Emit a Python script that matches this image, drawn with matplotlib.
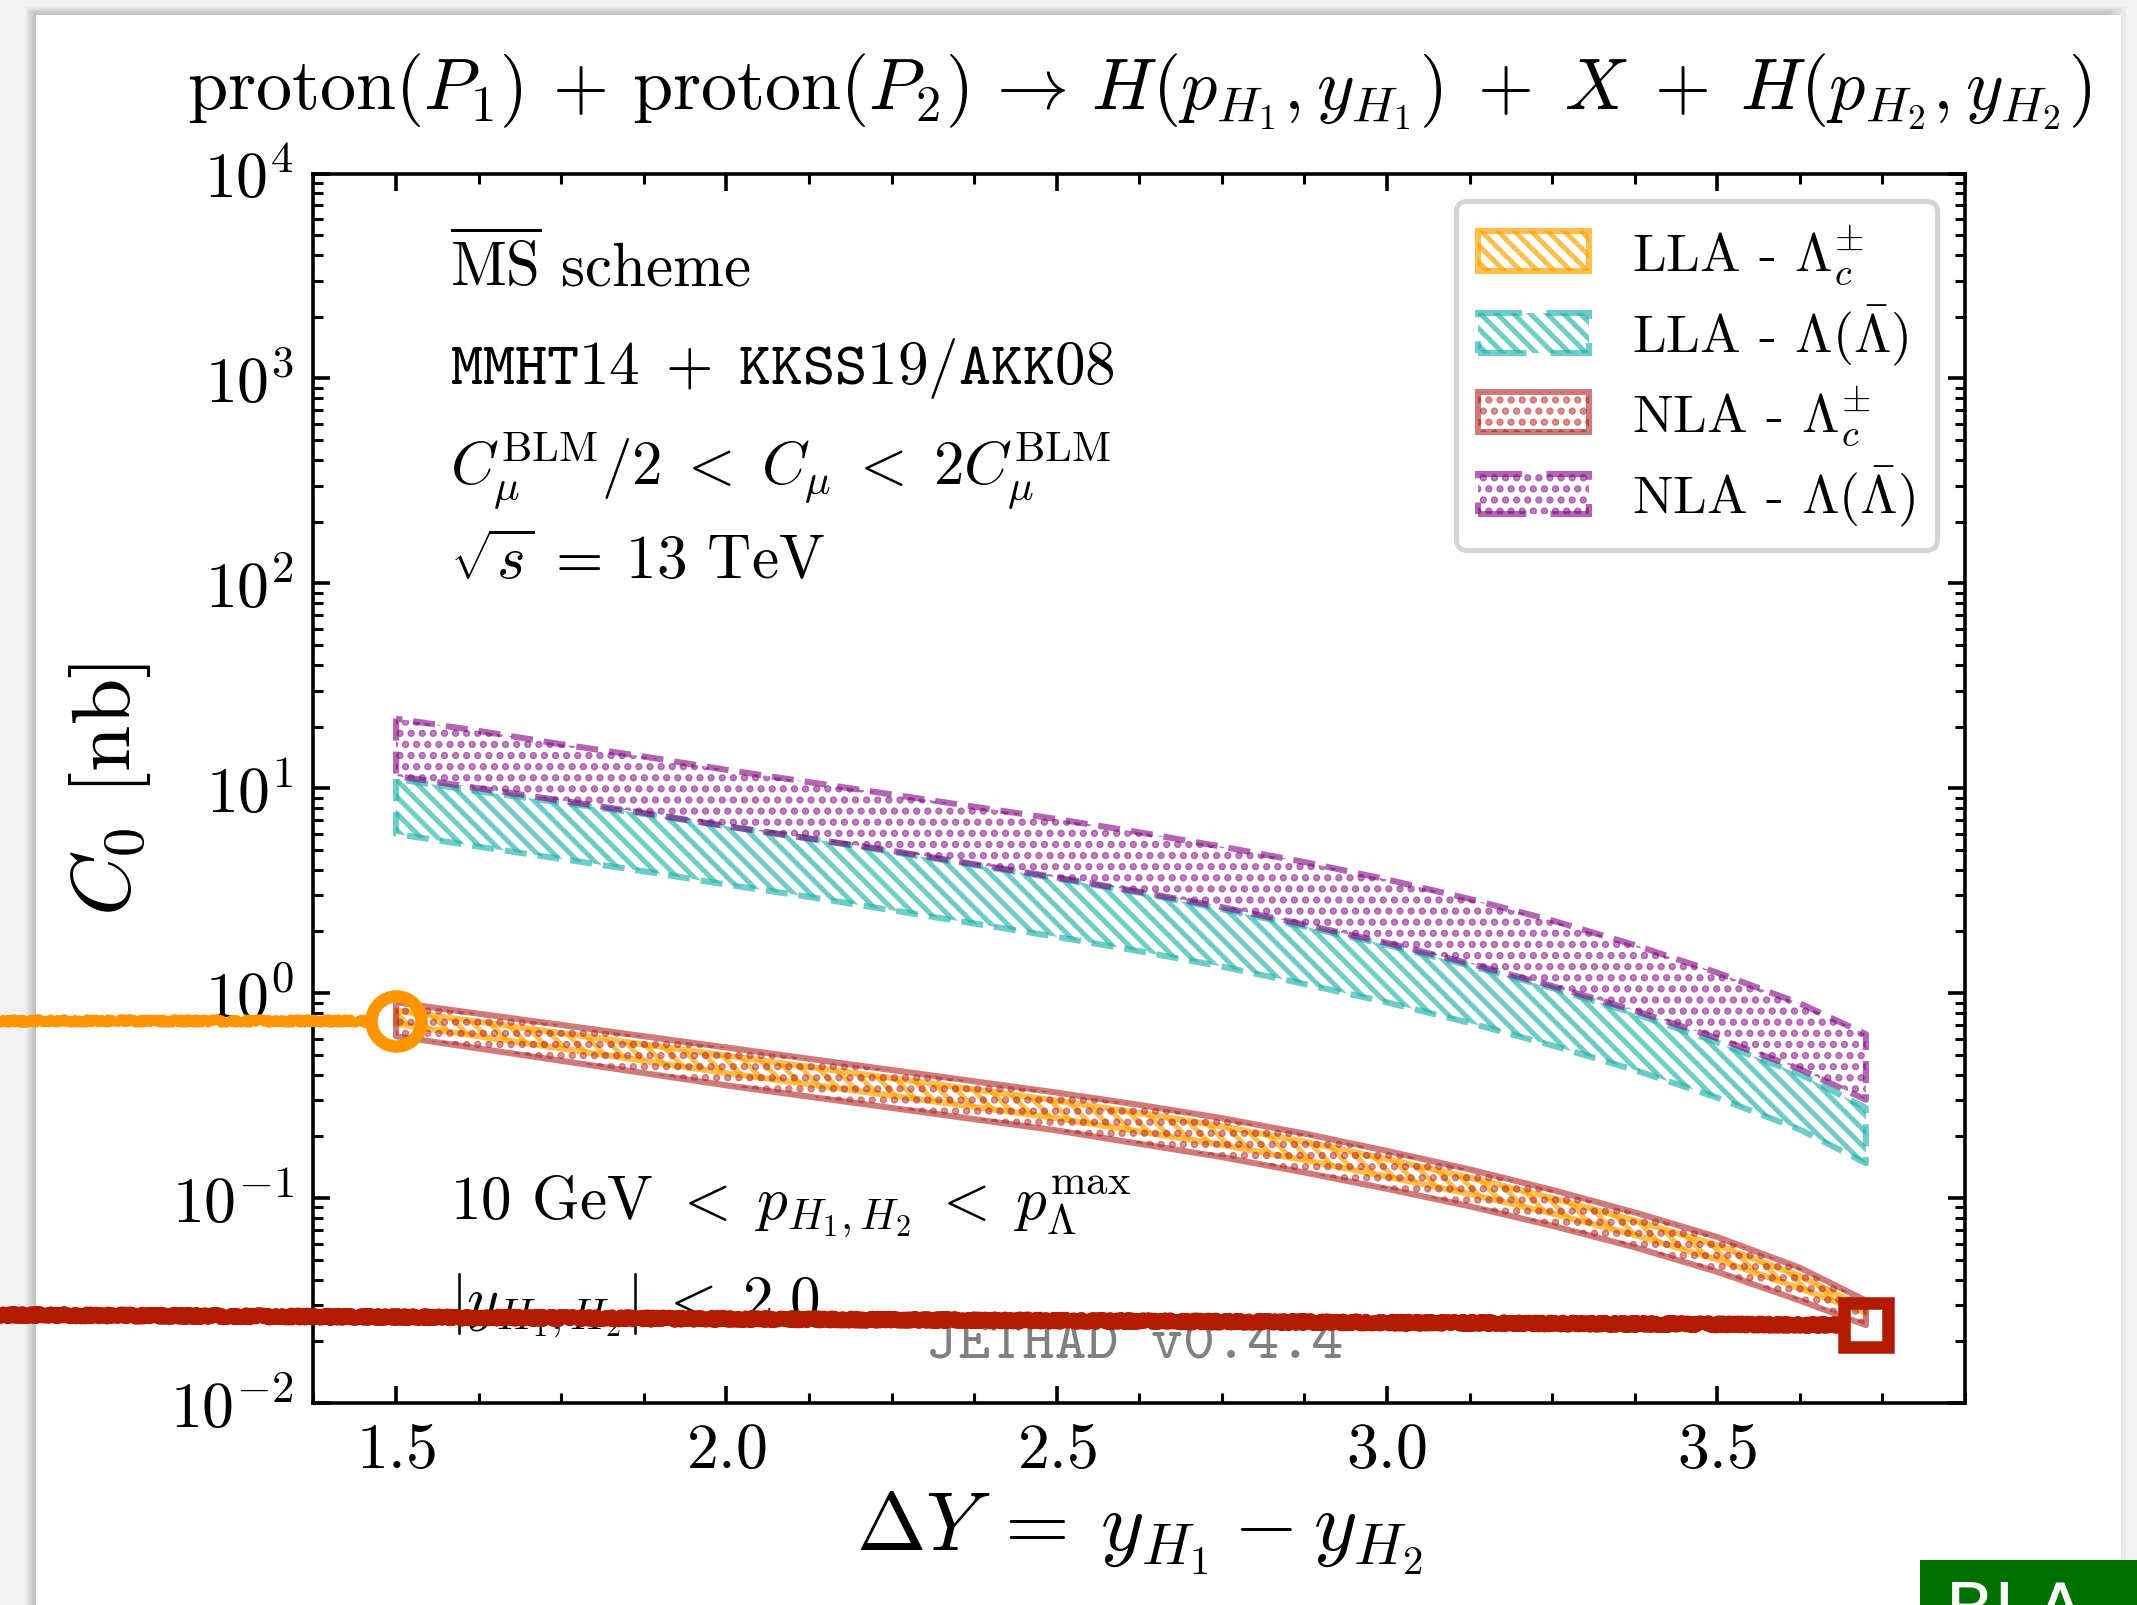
import numpy as np
import matplotlib
matplotlib.use("Agg")
import matplotlib.pyplot as plt
from matplotlib.patches import Rectangle
from matplotlib.ticker import MultipleLocator, LogLocator, NullFormatter

plt.rcParams.update({
    "font.family": "serif",
    "font.serif": ["cmr10"],
    "mathtext.fontset": "cm",
    "axes.unicode_minus": False,
    "axes.formatter.use_mathtext": True,
    "hatch.linewidth": 1.8,
})

# rapidity distance grid
dY = [1.5, 1.625, 1.75, 1.875, 2.0, 2.125, 2.25, 2.375, 2.5, 2.625,
      2.75, 2.875, 3.0, 3.125, 3.25, 3.375, 3.5, 3.625, 3.725]

# log10(C0 / nb) band edges
nla_lc_hi = [-0.045, -0.10, -0.155, -0.21, -0.265, -0.32, -0.375, -0.43, -0.485, -0.545,
             -0.61, -0.685, -0.77, -0.86, -0.96, -1.07, -1.19, -1.34, -1.50]
nla_lc_lo = [-0.21, -0.27, -0.33, -0.39, -0.45, -0.505, -0.56, -0.615, -0.67, -0.735,
             -0.80, -0.875, -0.955, -1.04, -1.135, -1.24, -1.36, -1.50, -1.62]
lla_lc_hi = [-0.085, -0.14, -0.195, -0.25, -0.305, -0.36, -0.415, -0.47, -0.525, -0.585,
             -0.65, -0.725, -0.81, -0.90, -1.00, -1.11, -1.23, -1.38, -1.54]
lla_lc_lo = [-0.15, -0.21, -0.27, -0.33, -0.39, -0.445, -0.50, -0.555, -0.61, -0.675,
             -0.74, -0.815, -0.895, -0.98, -1.075, -1.18, -1.30, -1.44, -1.56]
nla_l_hi = [1.34, 1.28, 1.215, 1.155, 1.09, 1.03, 0.97, 0.91, 0.85, 0.785,
            0.715, 0.64, 0.555, 0.46, 0.355, 0.235, 0.10, -0.05, -0.20]
nla_l_lo = [1.06, 1.0, 0.94, 0.88, 0.815, 0.755, 0.695, 0.63, 0.565, 0.495,
            0.42, 0.335, 0.245, 0.145, 0.035, -0.085, -0.22, -0.37, -0.52]
lla_l_hi = [1.045, 0.985, 0.93, 0.875, 0.815, 0.755, 0.69, 0.625, 0.56, 0.49,
            0.41, 0.325, 0.235, 0.135, 0.025, -0.10, -0.24, -0.395, -0.56]
lla_l_lo = [0.777, 0.715, 0.655, 0.595, 0.53, 0.47, 0.405, 0.34, 0.275, 0.205,
            0.13, 0.045, -0.045, -0.145, -0.255, -0.375, -0.51, -0.665, -0.83]

labels = [r"LLA - $\Lambda_c^{\pm}$", r"LLA - $\Lambda(\bar{\Lambda})$",
          r"NLA - $\Lambda_c^{\pm}$", r"NLA - $\Lambda(\bar{\Lambda})$"]

# hand-drawn markers laid over the picture
ring_x, ring_y = 1.5, 0.73
box_x, box_y = 3.725, 0.024
box_tail_y = 0.0269

W, H, DPI = 2137, 1606, 200
fig = plt.figure(figsize=(W / DPI, H / DPI), dpi=DPI)
fig.patch.set_facecolor("#f2f2f2")

# page with soft shadow
px, py = 36 / W, 16 / H
for i in range(1, 8):
    fig.patches.append(Rectangle((px - i * 1.5 / W, -0.05), 1 - 2 * px + i * 5 / W,
                                 1 - py + 0.05 + i * 1.2 / H,
                                 transform=fig.transFigure, facecolor="black",
                                 edgecolor="none", alpha=0.03, zorder=-3))
fig.patches.append(Rectangle((px, -0.05), (2121 - 36) / W, 1 - py + 0.05,
                             transform=fig.transFigure, facecolor="white",
                             edgecolor="none", zorder=-2))

ax = fig.add_axes([0.1467, 0.1258, 0.7728, 0.7655])
ax.set_facecolor("none")

dash = (0, (3.6, 1.8))
ax.fill_between(dY, np.power(10, lla_lc_lo), np.power(10, lla_lc_hi), facecolor="none",
                edgecolor="orange", hatch="\\\\\\\\", lw=2.2, ls="-", alpha=0.7, label=labels[0])
ax.fill_between(dY, np.power(10, lla_l_lo), np.power(10, lla_l_hi), facecolor="none",
                edgecolor="lightseagreen", hatch="\\\\\\\\", lw=2.2, ls=dash, alpha=0.65,
                label=labels[1])
ax.fill_between(dY, np.power(10, nla_lc_lo), np.power(10, nla_lc_hi), facecolor="none",
                edgecolor="firebrick", hatch="...", lw=2.2, ls="-", alpha=0.6, label=labels[2])
ax.fill_between(dY, np.power(10, nla_l_lo), np.power(10, nla_l_hi), facecolor="none",
                edgecolor="purple", hatch="...", lw=2.2, ls=dash, alpha=0.6, label=labels[3])

ax.set_yscale("log")
ax.set_xlim(1.375, 3.875)
ax.set_ylim(1e-2, 1e4)
ax.xaxis.set_major_locator(MultipleLocator(0.5))
ax.xaxis.set_minor_locator(MultipleLocator(0.125))
ax.yaxis.set_major_locator(LogLocator(base=10, numticks=10))
ax.yaxis.set_minor_locator(LogLocator(base=10, subs=np.arange(2, 10), numticks=100))
ax.yaxis.set_minor_formatter(NullFormatter())
ax.tick_params(which="both", direction="in", top=True, right=True, labelsize=23)
ax.tick_params(which="major", length=6, width=1.3, pad=7)
ax.tick_params(which="minor", length=3.6, width=1.1)
for s in ax.spines.values():
    s.set_linewidth(1.3)

ax.set_xlabel(r"$\Delta Y \:=\: y_{H_1} - y_{H_2}$", fontsize=30)
ax.xaxis.set_label_coords(0.5, -0.07)
ax.set_ylabel(r"$C_0$ [nb]", fontsize=30)
ax.yaxis.set_label_coords(-0.097, 0.5)

fig.text(0.533, 0.932,
         r"proton$(P_1)$ $+$ proton$(P_2) \,\rightarrow\, H(p_{H_1}, y_{H_1}) \;+\; X \;+\; H(p_{H_2}, y_{H_2})$",
         ha="center", va="baseline", fontsize=26)

tx = 0.0827
ax.text(tx, 0.909, r"$\overline{\rm MS}$ scheme", transform=ax.transAxes, fontsize=22, va="baseline")
ax.text(tx, 0.830, r"$\mathtt{MMHT14} \;+\; \mathtt{KKSS19/AKK08}$", transform=ax.transAxes,
        fontsize=22, va="baseline")
ax.text(tx, 0.748, r"$C_{\mu}^{\rm BLM}/2 \;<\; C_{\mu} \;<\; 2C_{\mu}^{\rm BLM}$",
        transform=ax.transAxes, fontsize=22, va="baseline")
ax.text(tx, 0.671, r"$\sqrt{s} \:=\: 13$ TeV", transform=ax.transAxes, fontsize=22, va="baseline")
ax.text(tx, 0.150, r"10 GeV $<\; p_{H_1,H_2} \;<\; p_{\Lambda}^{\rm max}$", transform=ax.transAxes,
        fontsize=22, va="baseline")
ax.text(tx, 0.069, r"$|y_{H_1,H_2}| \;<\; 2.0$", transform=ax.transAxes, fontsize=22, va="baseline")
ax.text(0.371, 0.037, "JETHAD v0.4.4", transform=ax.transAxes, fontsize=22,
        family="cmtt10", color="gray", va="baseline")

leg = ax.legend(loc="upper right", bbox_to_anchor=(0.983, 0.978), borderaxespad=0,
                fontsize=19.5, handlelength=2.05, handleheight=0.76, handletextpad=0.8,
                labelspacing=0.3, borderpad=0.4, fancybox=True, framealpha=1)
leg.get_frame().set_edgecolor("#d4d4d4")
leg.get_frame().set_linewidth(1.8)

# hand-drawn highlight strokes
x_left = ax.transData.inverted().transform(fig.transFigure.transform((0, 0.5)))[0]
orange_c, red_c = "#ff9500", "#b31b00"
strokes = []
strokes += ax.plot([x_left, ring_x - 0.045], [ring_y, ring_y], color=orange_c, lw=3.0,
                   clip_on=False, zorder=10)
strokes += ax.plot([ring_x], [ring_y], marker="o", ms=18, mfc="none", mec=orange_c,
                   mew=4.5, clip_on=False, zorder=10)
strokes += ax.plot([x_left, box_x - 0.04], [box_tail_y, box_y], color=red_c, lw=4.7,
                   clip_on=False, zorder=10)
strokes += ax.plot([box_x], [box_y], marker="s", ms=15.5, mfc="none", mec=red_c,
                   mew=4.5, clip_on=False, zorder=10)
for s in strokes:
    s.set_sketch_params(scale=2.5, length=1.5, randomness=3)

# green tag cut off at the corner
fig.patches.append(Rectangle((1920 / W, 0), 1 - 1920 / W, 45 / H, transform=fig.transFigure,
                             facecolor="#007000", edgecolor="none", zorder=5))
fig.text(1945 / W, 1 - 1634 / H, "BLA", color="white", fontsize=26,
         family="DejaVu Sans", va="baseline", zorder=6)

fig.savefig("out.png", dpi=DPI, facecolor=fig.get_facecolor())
